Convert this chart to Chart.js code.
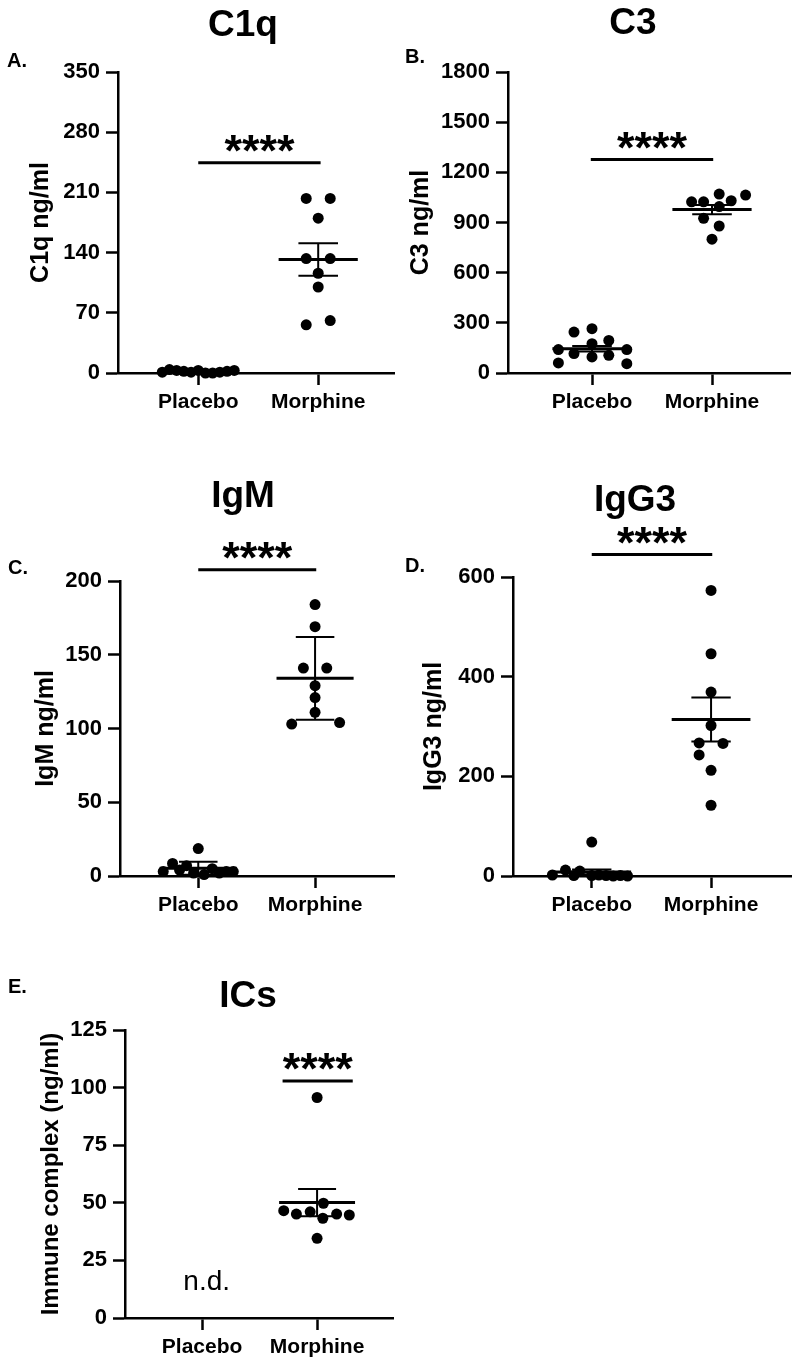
<!DOCTYPE html>
<html lang="en">
<head>
  <meta charset="UTF-8">
  <title>Complement and immunoglobulin levels</title>
  <script src="https://cdn.jsdelivr.net/npm/chart.js"></script>
  <style>
    body { margin: 0; background: #fff; }
    #page { position: relative; width: 800px; height: 1367px; overflow: hidden; }
    canvas { position: absolute; }
  </style>
</head>
<body>
<div id="page">
  <canvas id="c1qChart" width="400" height="420" style="left:0;top:0"></canvas>
  <canvas id="c3Chart" width="400" height="420" style="left:400px;top:0"></canvas>
  <canvas id="igmChart" width="400" height="480" style="left:0;top:440px"></canvas>
  <canvas id="igg3Chart" width="400" height="480" style="left:400px;top:440px"></canvas>
  <canvas id="icsChart" width="400" height="447" style="left:0;top:920px"></canvas>
</div>

<script>
  const groups = ['Placebo', 'Morphine'];

  // C1q (ng/ml) - values and horizontal scatter offsets
  const c1qPlacebo   = [1, 4, 3, 2, 1, 3, 0, 0, 1, 2, 3];
  const c1qPlaceboX  = [-0.3, -0.24, -0.18, -0.12, -0.06, 0, 0.06, 0.12, 0.18, 0.24, 0.3];
  const c1qMorphine  = [203, 203, 180, 133, 133, 116, 100, 56, 61];
  const c1qMorphineX = [-0.1, 0.1, 0, -0.1, 0.1, 0, 0, -0.1, 0.1];
  const c1qMean = [2, 132];
  const c1qErr  = [0.7, 19];

  // C3
  const c3Placebo   = [60, 140, 245, 116, 265, 175, 96, 195, 106, 140, 56];
  const c3PlaceboX  = [-0.28, -0.28, -0.15, -0.15, 0, 0, 0, 0.14, 0.14, 0.29, 0.29];
  const c3Morphine  = [1024, 1024, 1070, 1030, 1064, 995, 925, 879, 800];
  const c3MorphineX = [-0.17, -0.07, 0.06, 0.16, 0.28, 0.06, -0.07, 0.06, 0];
  const c3Mean = [145, 977];
  const c3Err  = [17, 27];

  // IgM
  const igmPlacebo   = [3, 8.5, 4, 7, 2, 18.6, 1, 5, 2, 3, 3];
  const igmPlaceboX  = [-0.3, -0.22, -0.16, -0.1, -0.04, 0, 0.05, 0.12, 0.18, 0.24, 0.3];
  const igmMorphine  = [184, 169, 141, 141, 129, 121, 111, 103, 104];
  const igmMorphineX = [0, 0, -0.1, 0.1, 0, 0, 0, -0.2, 0.21];
  const igmMean = [5.2, 134];
  const igmErr  = [4.4, 28];

  // IgG3
  const igg3Placebo   = [2, 12, 1, 10, 68, 1, 2, 1, 0, 1, 0];
  const igg3PlaceboX  = [-0.33, -0.22, -0.15, -0.1, 0, 0, 0.06, 0.12, 0.18, 0.24, 0.3];
  const igg3Morphine  = [573, 446, 369, 302, 267, 266, 243, 212, 142];
  const igg3MorphineX = [0, 0, 0, 0, -0.1, 0.1, -0.1, 0, 0];
  const igg3Mean = [8, 314];
  const igg3Err  = [5, 44];

  // Immune complexes (placebo not detected)
  const icsPlacebo   = [];
  const icsPlaceboX  = [];
  const icsMorphine  = [95.7, 49.8, 46.6, 45.1, 46.1, 43.3, 45.1, 44.7, 34.6];
  const icsMorphineX = [0, 0.055, -0.29, -0.18, -0.06, 0.05, 0.17, 0.28, 0];
  const icsMean = [null, 50.1];
  const icsErr  = [null, 5.9];

  const FONT = '"Liberation Sans", Arial, sans-serif';

  // draws mean/SEM bars, significance bar, titles and panel letters
  const extras = {
    id: 'extras',
    afterDatasetsDraw(chart, args, o) {
      const ctx = chart.ctx;
      const xs = chart.scales.x, ys = chart.scales.y;
      const px = v => xs.getPixelForValue(v), py = v => ys.getPixelForValue(v);
      ctx.save();
      ctx.strokeStyle = '#000';
      ctx.fillStyle = '#000';
      ctx.lineCap = 'butt';

      o.mean.forEach((m, i) => {
        if (m == null) return;
        const c = i + 1, e = o.err[i];
        ctx.lineWidth = 2;
        ctx.beginPath();
        ctx.moveTo(px(c), py(m - e));
        ctx.lineTo(px(c), py(m + e));
        [m - e, m + e].forEach(v => {
          ctx.moveTo(px(c - 0.165), py(v));
          ctx.lineTo(px(c + 0.165), py(v));
        });
        ctx.stroke();
        ctx.lineWidth = 3;
        ctx.beginPath();
        ctx.moveTo(px(c - 0.33), py(m));
        ctx.lineTo(px(c + 0.33), py(m));
        ctx.stroke();
      });

      // significance bar + asterisks
      const barY = py(o.sig.y);
      ctx.lineWidth = 3;
      ctx.beginPath();
      ctx.moveTo(px(o.sig.x0), barY);
      ctx.lineTo(px(o.sig.x1), barY);
      ctx.stroke();
      ctx.font = 'bold 45px ' + FONT;
      ctx.textAlign = 'center';
      ctx.textBaseline = 'alphabetic';
      ctx.fillText('****', (px(o.sig.x0) + px(o.sig.x1)) / 2, barY + 3);

      if (o.nd) {
        ctx.font = '28px ' + FONT;
        ctx.textBaseline = 'middle';
        ctx.fillText('n.d.', px(o.nd.x), py(o.nd.y));
      }

      ctx.font = 'bold 37px ' + FONT;
      ctx.textAlign = 'center';
      ctx.textBaseline = 'middle';
      ctx.fillText(o.title, o.titlePos[0], o.titlePos[1]);

      ctx.font = 'bold 20px ' + FONT;
      ctx.textAlign = 'left';
      ctx.fillText(o.letter, o.letterPos[0], o.letterPos[1]);
      ctx.restore();
    }
  };

  function makePanel(id, p) {
    const pts = (vals, offs, c) => vals.map((v, i) => ({ x: c + offs[i], y: v }));
    const axisLine = { color: '#000', width: 2.5 };
    const tickGrid = { drawOnChartArea: false, drawTicks: true, tickLength: 12, tickWidth: 2.5, tickColor: '#000', color: '#000' };
    new Chart(document.getElementById(id), {
      type: 'scatter',
      data: {
        datasets: [
          { data: pts(p.placebo, p.placeboX, 1) },
          { data: pts(p.morphine, p.morphineX, 2) }
        ].map(d => Object.assign(d, {
          backgroundColor: '#000', borderWidth: 0, pointRadius: 5.5, pointHoverRadius: 5.5, clip: false
        }))
      },
      options: {
        responsive: false,
        animation: false,
        events: [],
        layout: { padding: { top: p.padTop, right: p.canvasW - p.plotRight, left: 0, bottom: 0 } },
        scales: {
          x: {
            type: 'linear',
            min: p.xMin,
            max: p.xMax,
            afterBuildTicks: s => { s.ticks = [{ value: 1 }, { value: 2 }]; },
            afterFit: s => { s.height = p.axisH; },
            ticks: {
              callback: v => groups[v - 1],
              color: '#000',
              font: { family: FONT, size: 21, weight: 'bold' },
              padding: 5, maxRotation: 0, autoSkip: false
            },
            grid: tickGrid,
            border: axisLine
          },
          y: {
            min: 0,
            max: p.yMax,
            afterFit: s => { s.width = p.axisW; },
            ticks: {
              stepSize: p.yStep,
              callback: v => String(v),
              color: '#000',
              font: { family: FONT, size: 22, weight: 'bold' },
              padding: 6
            },
            grid: tickGrid,
            border: axisLine,
            title: {
              display: true,
              text: p.yTitle,
              color: '#000',
              font: { family: FONT, size: p.yTitleSize, weight: 'bold' },
              padding: { top: p.yTitleX - p.yTitleSize * 0.6, bottom: 0 }
            }
          }
        },
        plugins: {
          legend: { display: false },
          tooltip: { enabled: false },
          extras: {
            mean: p.mean, err: p.err, sig: p.sig, nd: p.nd,
            title: p.title, titlePos: p.titlePos,
            letter: p.letter, letterPos: p.letterPos
          }
        }
      },
      plugins: [extras]
    });
  }

  makePanel('c1qChart', {
    placebo: c1qPlacebo, placeboX: c1qPlaceboX, morphine: c1qMorphine, morphineX: c1qMorphineX,
    mean: c1qMean, err: c1qErr, yMax: 350, yStep: 70, yTitle: 'C1q ng/ml', yTitleSize: 25,
    title: 'C1q', letter: 'A.', sig: { y: 244.6, x0: 1, x1: 2.02 },
    canvasW: 400, padTop: 72, axisW: 118, plotRight: 397, axisH: 47, xMin: 0.331, xMax: 2.636,
    titlePos: [243, 26], letterPos: [7, 61], yTitleX: 41
  });

  makePanel('c3Chart', {
    placebo: c3Placebo, placeboX: c3PlaceboX, morphine: c3Morphine, morphineX: c3MorphineX,
    mean: c3Mean, err: c3Err, yMax: 1800, yStep: 300, yTitle: 'C3 ng/ml', yTitleSize: 25,
    title: 'C3', letter: 'B.', sig: { y: 1276, x0: 0.99, x1: 2.01 },
    canvasW: 400, padTop: 72, axisW: 108, plotRight: 390, axisH: 47, xMin: 0.30, xMax: 2.65,
    titlePos: [233, 24], letterPos: [5, 57], yTitleX: 21
  });

  makePanel('igmChart', {
    placebo: igmPlacebo, placeboX: igmPlaceboX, morphine: igmMorphine, morphineX: igmMorphineX,
    mean: igmMean, err: igmErr, yMax: 200, yStep: 50, yTitle: 'IgM ng/ml', yTitleSize: 25,
    title: 'IgM', letter: 'C.', sig: { y: 207.7, x0: 1, x1: 2.01 },
    canvasW: 400, padTop: 141, axisW: 120, plotRight: 397, axisH: 44, xMin: 0.33, xMax: 2.68,
    titlePos: [243, 57], letterPos: [8, 128], yTitleX: 46
  });

  makePanel('igg3Chart', {
    placebo: igg3Placebo, placeboX: igg3PlaceboX, morphine: igg3Morphine, morphineX: igg3MorphineX,
    mean: igg3Mean, err: igg3Err, yMax: 600, yStep: 200, yTitle: 'IgG3 ng/ml', yTitleSize: 25,
    title: 'IgG3', letter: 'D.', sig: { y: 645, x0: 1, x1: 2.01 },
    canvasW: 400, padTop: 137, axisW: 113, plotRight: 391, axisH: 44, xMin: 0.34, xMax: 2.67,
    titlePos: [235, 61], letterPos: [5, 126], yTitleX: 34
  });

  makePanel('icsChart', {
    placebo: icsPlacebo, placeboX: icsPlaceboX, morphine: icsMorphine, morphineX: icsMorphineX,
    mean: icsMean, err: icsErr, yMax: 125, yStep: 25, yTitle: 'Immune complex (ng/ml)', yTitleSize: 24,
    title: 'ICs', letter: 'E.', sig: { y: 102.9, x0: 1.7, x1: 2.31 }, nd: { x: 1.04, y: 15.6 },
    canvasW: 400, padTop: 110, axisW: 125, plotRight: 393, axisH: 49, xMin: 0.33, xMax: 2.66,
    titlePos: [248, 77], letterPos: [8, 67], yTitleX: 51
  });
</script>
</body>
</html>
